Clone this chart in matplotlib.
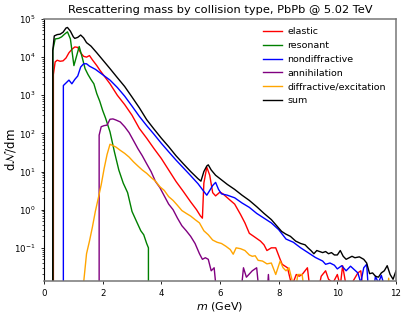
import numpy as np
import matplotlib
matplotlib.use("Agg")
import matplotlib.pyplot as plt

OFF = 0.005  # below the axis floor

sum_m = [0.25, 0.3, 0.35, 0.45, 0.55, 0.65, 0.75, 0.8, 0.9, 1.0, 1.05, 1.15, 1.25, 1.35, 1.45, 1.6, 1.8, 2.0, 2.25, 2.5, 2.75, 3.0, 3.25, 3.5, 3.75, 4.0, 4.25, 4.5, 4.75, 5.0, 5.25, 5.35, 5.45, 5.55, 5.6, 5.7, 5.85, 6.0, 6.25, 6.5, 6.75, 7.0, 7.25, 7.5, 7.75, 8.0, 8.1, 8.24, 8.4, 8.58, 8.75, 8.9, 9.0, 9.1, 9.2, 9.3, 9.5, 9.6, 9.7, 9.8, 9.9, 10.0, 10.1, 10.2, 10.3, 10.5, 10.6, 10.75, 10.9, 11.0, 11.1, 11.2, 11.3, 11.4, 11.5, 11.6, 11.7, 11.8, 11.9, 12.0]
sum_v = [0, 1.5e4, 3.6e4, 3.9e4, 4.0e4, 4.5e4, 5.8e4, 6.0e4, 4.8e4, 3.4e4, 3.1e4, 3.3e4, 3.8e4, 3.2e4, 2.4e4, 1.95e4, 1.3e4, 8.5e3, 5.0e3, 2.9e3, 1.7e3, 900, 470, 230, 130, 75, 45, 26, 16, 10, 6.5, 5.6, 10, 14, 15, 11, 8, 6.5, 4.6, 3.4, 2.4, 1.75, 1.2, 0.8, 0.55, 0.33, 0.27, 0.23, 0.2, 0.15, 0.13, 0.12, 0.1, 0.085, 0.07, 0.085, 0.075, 0.08, 0.07, 0.075, 0.065, 0.065, 0.085, 0.06, 0.05, 0.06, 0.055, 0.058, 0.05, 0.04, 0.021, 0.022, 0.018, 0.017, 0.022, 0.025, 0.034, 0.02, 0.015, 0.025]

nd_m = [0.64, 0.66, 0.75, 0.85, 0.95, 1.05, 1.15, 1.25, 1.35, 1.45, 1.55, 1.75, 1.95, 2.25, 2.5, 2.75, 3.0, 3.25, 3.5, 3.75, 4.0, 4.25, 4.5, 4.75, 5.0, 5.25, 5.35, 5.45, 5.55, 5.65, 5.75, 5.85, 5.95, 6.05, 6.25, 6.5, 6.75, 7.0, 7.25, 7.5, 7.75, 8.0, 8.25, 8.5, 8.75, 9.0, 9.25, 9.5, 9.6, 9.75, 9.9, 10.0, 10.15, 10.3, 10.45, 10.55, 10.7, 10.8, 10.9, 11.0, 11.05, 11.2, 11.3, 11.4, 11.5, 11.6, 11.8, 12.0]
nd_v = [0, 1.8e3, 2.1e3, 2.5e3, 2.0e3, 2.6e3, 3.2e3, 5.5e3, 6.7e3, 6.7e3, 5.8e3, 4.8e3, 3.7e3, 2.5e3, 1.6e3, 950, 520, 280, 160, 95, 55, 33, 20, 12.5, 7.8, 4.8, 3.8, 3.0, 2.4, 3.2, 4.3, 5.2, 3.4, 2.6, 2.4, 2.05, 1.5, 1.15, 0.8, 0.6, 0.45, 0.3, 0.17, 0.14, 0.1, 0.075, 0.056, 0.045, 0.037, 0.04, 0.035, 0.028, 0.034, 0.025, 0.033, 0.028, 0.022, 0.012, 0.03, 0.037, 0.01, OFF, 0.018, 0.012, 0.019, 0.01, OFF, OFF]

el_m = [0.28, 0.32, 0.38, 0.45, 0.55, 0.65, 0.75, 0.85, 0.95, 1.05, 1.15, 1.25, 1.35, 1.45, 1.55, 1.65, 1.8, 1.9, 2.25, 2.5, 2.75, 3.0, 3.25, 3.5, 3.75, 4.0, 4.25, 4.5, 4.75, 5.0, 5.2, 5.33, 5.4, 5.45, 5.55, 5.65, 5.75, 5.85, 6.0, 6.1, 6.3, 6.5, 6.7, 6.85, 7.0, 7.15, 7.38, 7.5, 7.6, 7.75, 7.9, 8.05, 8.12, 8.3, 8.45, 8.6, 8.7, 8.8, 8.98, 9.1, 9.3, 9.45, 9.6, 9.7, 9.85, 10.0, 10.1, 10.18, 10.3, 10.5, 10.7, 10.8, 10.9, 12.0]
el_v = [0, 3.5e3, 7.5e3, 8.3e3, 7.8e3, 8.0e3, 9.5e3, 1.3e4, 1.6e4, 1.85e4, 1.8e4, 1.3e4, 1.05e4, 1.0e4, 1.1e4, 8.5e3, 6.0e3, 4.6e3, 2.0e3, 1.0e3, 570, 300, 135, 75, 40, 22, 11, 5.5, 3.0, 1.6, 1.0, 0.69, 0.6, 5, 13, 8, 2.8, 2.3, 2.9, 2.6, 1.9, 1.4, 0.75, 0.45, 0.24, 0.2, 0.15, 0.12, 0.085, 0.1, 0.1, 0.05, 0.037, 0.03, 0.01, 0.02, 0.018, 0.02, 0.03, OFF, OFF, 0.018, 0.025, 0.015, 0.012, 0.02, 0.01, 0.034, 0.01, 0.012, 0.022, 0.025, OFF, OFF]

res_m = [0.28, 0.3, 0.38, 0.5, 0.6, 0.7, 0.8, 0.9, 1.02, 1.1, 1.2, 1.3, 1.4, 1.5, 1.6, 1.7, 1.8, 1.9, 2.0, 2.1, 2.25, 2.4, 2.55, 2.7, 2.85, 3.0, 3.15, 3.3, 3.4, 3.5, 3.56, 3.57]
res_v = [0, 1.5e4, 3.0e4, 3.1e4, 3.4e4, 4.0e4, 4.6e4, 3.0e4, 6.0e3, 1.0e4, 1.9e4, 1.0e4, 5.0e3, 3.5e3, 2.6e3, 2.0e3, 1.1e3, 700, 400, 250, 110, 33, 11, 5, 2.8, 0.9, 0.5, 0.28, 0.22, 0.13, 0.1, 0]

ann_m = [1.86, 1.88, 1.95, 2.05, 2.15, 2.25, 2.35, 2.45, 2.6, 2.75, 2.9, 3.05, 3.2, 3.35, 3.5, 3.65, 3.8, 3.95, 4.1, 4.25, 4.4, 4.55, 4.7, 4.85, 5.0, 5.15, 5.3, 5.4, 5.5, 5.6, 5.7, 5.8, 5.9, 6.7, 6.8, 6.9, 7.1, 7.25, 7.35, 7.6, 7.65, 7.7, 12.0]
ann_v = [0, 90, 150, 160, 165, 235, 240, 225, 200, 150, 105, 65, 40, 26, 16, 10, 5.5, 3.8, 2.3, 1.4, 1.0, 0.6, 0.38, 0.28, 0.2, 0.13, 0.07, 0.05, 0.055, 0.05, 0.025, 0.03, OFF, OFF, 0.03, 0.017, 0.025, 0.03, OFF, OFF, 0.02, OFF, OFF]

dif_m = [1.33, 1.35, 1.45, 1.55, 1.65, 1.75, 1.85, 1.95, 2.05, 2.15, 2.25, 2.35, 2.45, 2.6, 2.75, 2.9, 3.05, 3.2, 3.35, 3.5, 3.65, 3.8, 3.95, 4.1, 4.25, 4.4, 4.55, 4.7, 4.85, 5.0, 5.15, 5.3, 5.45, 5.6, 5.75, 5.9, 6.05, 6.2, 6.35, 6.45, 6.55, 6.7, 6.85, 7.0, 7.1, 7.2, 7.3, 7.45, 7.6, 7.75, 7.9, 8.05, 8.15, 8.25, 8.35, 8.45, 8.55, 8.65, 8.8, 8.9, 11.7, 11.75, 11.8, 12.0]
dif_v = [0, 0.012, 0.07, 0.15, 0.35, 0.9, 2.0, 4.5, 12, 28, 52, 48, 44, 36, 30, 24, 18, 14, 11, 9, 7, 5.6, 4.0, 3.2, 2.2, 1.75, 1.3, 0.95, 0.8, 0.68, 0.55, 0.45, 0.28, 0.22, 0.16, 0.14, 0.13, 0.11, 0.09, 0.068, 0.1, 0.095, 0.085, 0.065, 0.06, 0.062, 0.047, 0.045, 0.038, 0.04, 0.02, 0.045, 0.03, 0.025, 0.03, 0.015, OFF, 0.02, 0.02, OFF, OFF, 0.016, OFF, OFF]

series = [
    ("elastic", el_m, el_v, "red"),
    ("resonant", res_m, res_v, "green"),
    ("nondiffractive", nd_m, nd_v, "blue"),
    ("annihilation", ann_m, ann_v, "purple"),
    ("diffractive/excitation", dif_m, dif_v, "orange"),
    ("sum", sum_m, sum_v, "black"),
]

fig = plt.figure(figsize=(4.07, 3.14), dpi=100)
ax = fig.add_axes([44/407, 1-281/314, 352/407, 262/314])
for label, m, v, c in series:
    ax.plot(m, v, color=c, lw=1.0, label=label)
ax.set_yscale("log")
ax.set_xlim(0, 12)
ax.set_ylim(0.0135, 1e5)
ax.set_xticks([0, 2, 4, 6, 8, 10, 12])
ax.tick_params(labelsize=6.2, length=2.5, width=0.6)
ax.tick_params(which="minor", length=1.5, width=0.5)
for name, s in ax.spines.items():
    s.set_linewidth(0.8)
    if name != "left":
        s.set_color("#777777")
        s.set_linewidth(1.1)
ax.set_title("Rescattering mass by collision type, PbPb @ 5.02 TeV", fontsize=8.2, pad=4)
ax.set_xlabel(r"$m$ (GeV)", fontsize=8, labelpad=1)
ax.set_ylabel(r"d$\mathcal{N}$/dm", fontsize=8.5, labelpad=2)
ax.yaxis.set_label_coords(-0.075, 0.5)
ax.legend(loc="upper right", frameon=False, fontsize=6.8, handlelength=2.0,
          handletextpad=0.6, labelspacing=0.5, bbox_to_anchor=(0.995, 1.0))
fig.savefig("out.png", dpi=100)
